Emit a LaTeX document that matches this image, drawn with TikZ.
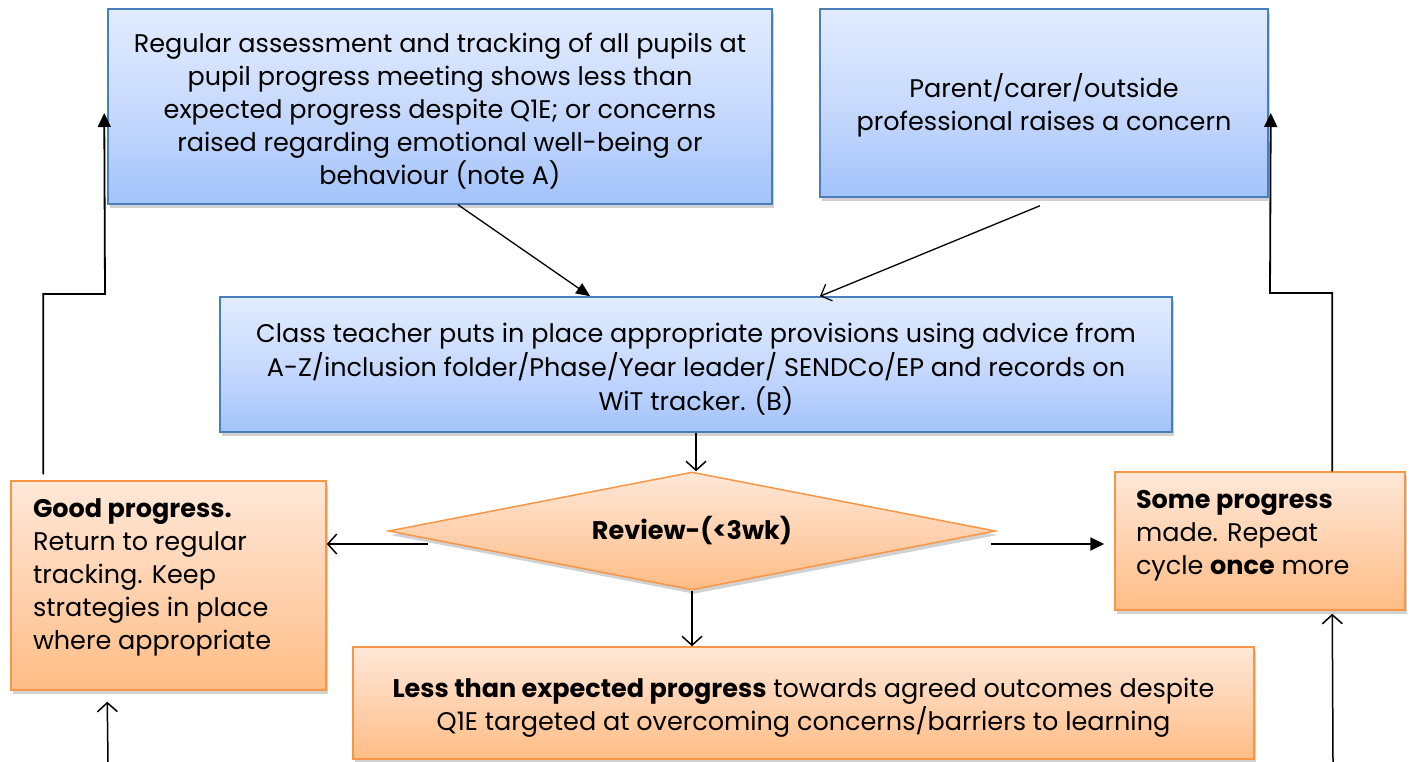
\documentclass[tikz,border=0pt]{standalone}
\usepackage{fontspec}
\setmainfont{Poppins}
\usetikzlibrary{arrows.meta,shapes.geometric,shadows,calc}
\definecolor{bltop}{HTML}{E2ECFF}
\definecolor{blmid}{HTML}{C8DAFD}
\definecolor{blbot}{HTML}{A3C3FA}
\definecolor{blline}{HTML}{4A7EBB}
\definecolor{ortop}{HTML}{FFE8D8}
\definecolor{ormid}{HTML}{FFD2B0}
\definecolor{orbot}{HTML}{FFBD85}
\definecolor{orline}{HTML}{F79646}
\tikzset{
  shad/.style={drop shadow={shadow xshift=2pt,shadow yshift=-4pt,opacity=0.3,fill=black!60}},
  bluebox/.style={rectangle, draw=blline, line width=1.5pt, top color=bltop, bottom color=blbot, middle color=blmid, shad, align=center, inner sep=0pt},
  orbox/.style={rectangle, draw=orline, line width=1.5pt, top color=ortop, bottom color=orbot, middle color=ormid, shad, align=center, inner sep=0pt},
  ordiam/.style={diamond, draw=orline, line width=1.5pt, top color=ortop, bottom color=orbot, middle color=ormid, shad, inner sep=0pt},
  openarr/.style={-{Straight Barb[length=9pt,width=20pt,line width=1.5pt]}, line width=1.5pt},
  fillarr/.style={-{Triangle[length=14pt,width=13pt]}, line width=1.8pt},
  thinfill/.style={-{Triangle[length=14pt,width=12pt]}, line width=1.3pt},
  thinopen/.style={-{Straight Barb[length=9pt,width=18pt,line width=1.2pt]}, line width=1.3pt},
}
% text moved up: extra depth below; text moved down: extra height above
\newcommand{\uptext}[3]{\raisebox{0pt}[\height][\dimexpr\depth+#1\relax]{\parbox{#2}{#3}}}
\newcommand{\downtext}[3]{\raisebox{0pt}[\dimexpr\height+#1\relax][\depth]{\parbox{#2}{#3}}}
\begin{document}
\begin{tikzpicture}[x=1pt,y=-1pt,font=\fontsize{25.5}{33}\selectfont]
\useasboundingbox (0,0) rectangle (1415,762);

\node[bluebox, minimum width=664pt, minimum height=195pt] (A) at (440,106.5)
  {\downtext{9pt}{650pt}{\centering Regular assessment and tracking of all pupils at\\ pupil progress meeting shows less than\\ expected progress despite Q1E; or concerns\\ raised regarding emotional well-being or\\ behaviour (note A)}};

\node[bluebox, minimum width=448pt, minimum height=188pt] (P) at (1044,103)
  {\downtext{5pt}{440pt}{\centering Parent/carer/outside\\ professional raises a concern}};

\node[bluebox, minimum width=952pt, minimum height=135pt] (C) at (696,364.5)
  {\downtext{9pt}{940pt}{\centering\fontsize{25.5}{34}\selectfont Class teacher puts in place appropriate provisions using advice from\\ A-Z/inclusion folder/Phase/Year leader/ SENDCo/EP and records on\\ WiT tracker. (B)}};

\node[ordiam, shape aspect=5.14, minimum width=607pt, minimum height=118pt] (D) at (692,531)
  {\textbf{Review-(<3wk)}};

\node[orbox, minimum width=315pt, minimum height=209pt] (G) at (168.5,585.5)
  {\uptext{16pt}{271pt}{\raggedright\textbf{Good progress.}\\ Return to regular\\ tracking. Keep\\ strategies in place\\ where appropriate}};

\node[orbox, minimum width=290pt, minimum height=138pt] (S) at (1260,541)
  {\uptext{10pt}{248pt}{\raggedright\textbf{Some progress}\\ made. Repeat\\ cycle \textbf{once} more}};

\node[orbox, minimum width=901pt, minimum height=112pt] (L) at (803.5,703)
  {\downtext{10pt}{890pt}{\centering\textbf{Less than expected progress} towards agreed outcomes despite\\ Q1E targeted at overcoming concerns/barriers to learning}};

% top connectors
\draw[thinfill] ($(A.south west)!0.527!(A.south east)$) -- ($(C.north west)!0.389!(C.north east)$);
\draw[thinopen] ($(P.south west)!0.491!(P.south east)+(0,8)$) -- ($(C.north west)!0.63!(C.north east)$);
\draw[openarr] (C.south) -- (C.south |- D.north);

% review outcomes
\coordinate (dl) at ($(D.west)+(40,13)$);
\coordinate (dr) at ($(D.east)+(-5,13)$);
\draw[openarr] (dl) -- (dl -| G.east);
\draw[fillarr] (dr) -- ($(dr -| S.west)+(-10,0)$);
\draw[openarr] (D.south) -- (D.south |- L.north);

% loops back to the top
\coordinate (g1) at ($(G.north west)+(33,-6)$);
\coordinate (lk1) at (105,294);
\coordinate (a1) at ($(A.west)+(-3,6.5)$);
\draw[fillarr] (g1) |- (lk1) -- (a1);

\coordinate (s1) at ($(S.north west)+(218,0)$);
\coordinate (lk2) at (1270,293);
\coordinate (p1) at ($(P.east)+(2,10)$);
\draw[fillarr] (s1) |- (lk2) -- (p1);

% arrows from below
\coordinate (b1) at (108,762);
\coordinate (b2) at (1333,762);
\draw[openarr] (b1) -- ($(G.south west)+(97,11)$);
\draw[openarr] (b2) -- ($(S.south west)+(218,3)$);
\end{tikzpicture}
\end{document}
